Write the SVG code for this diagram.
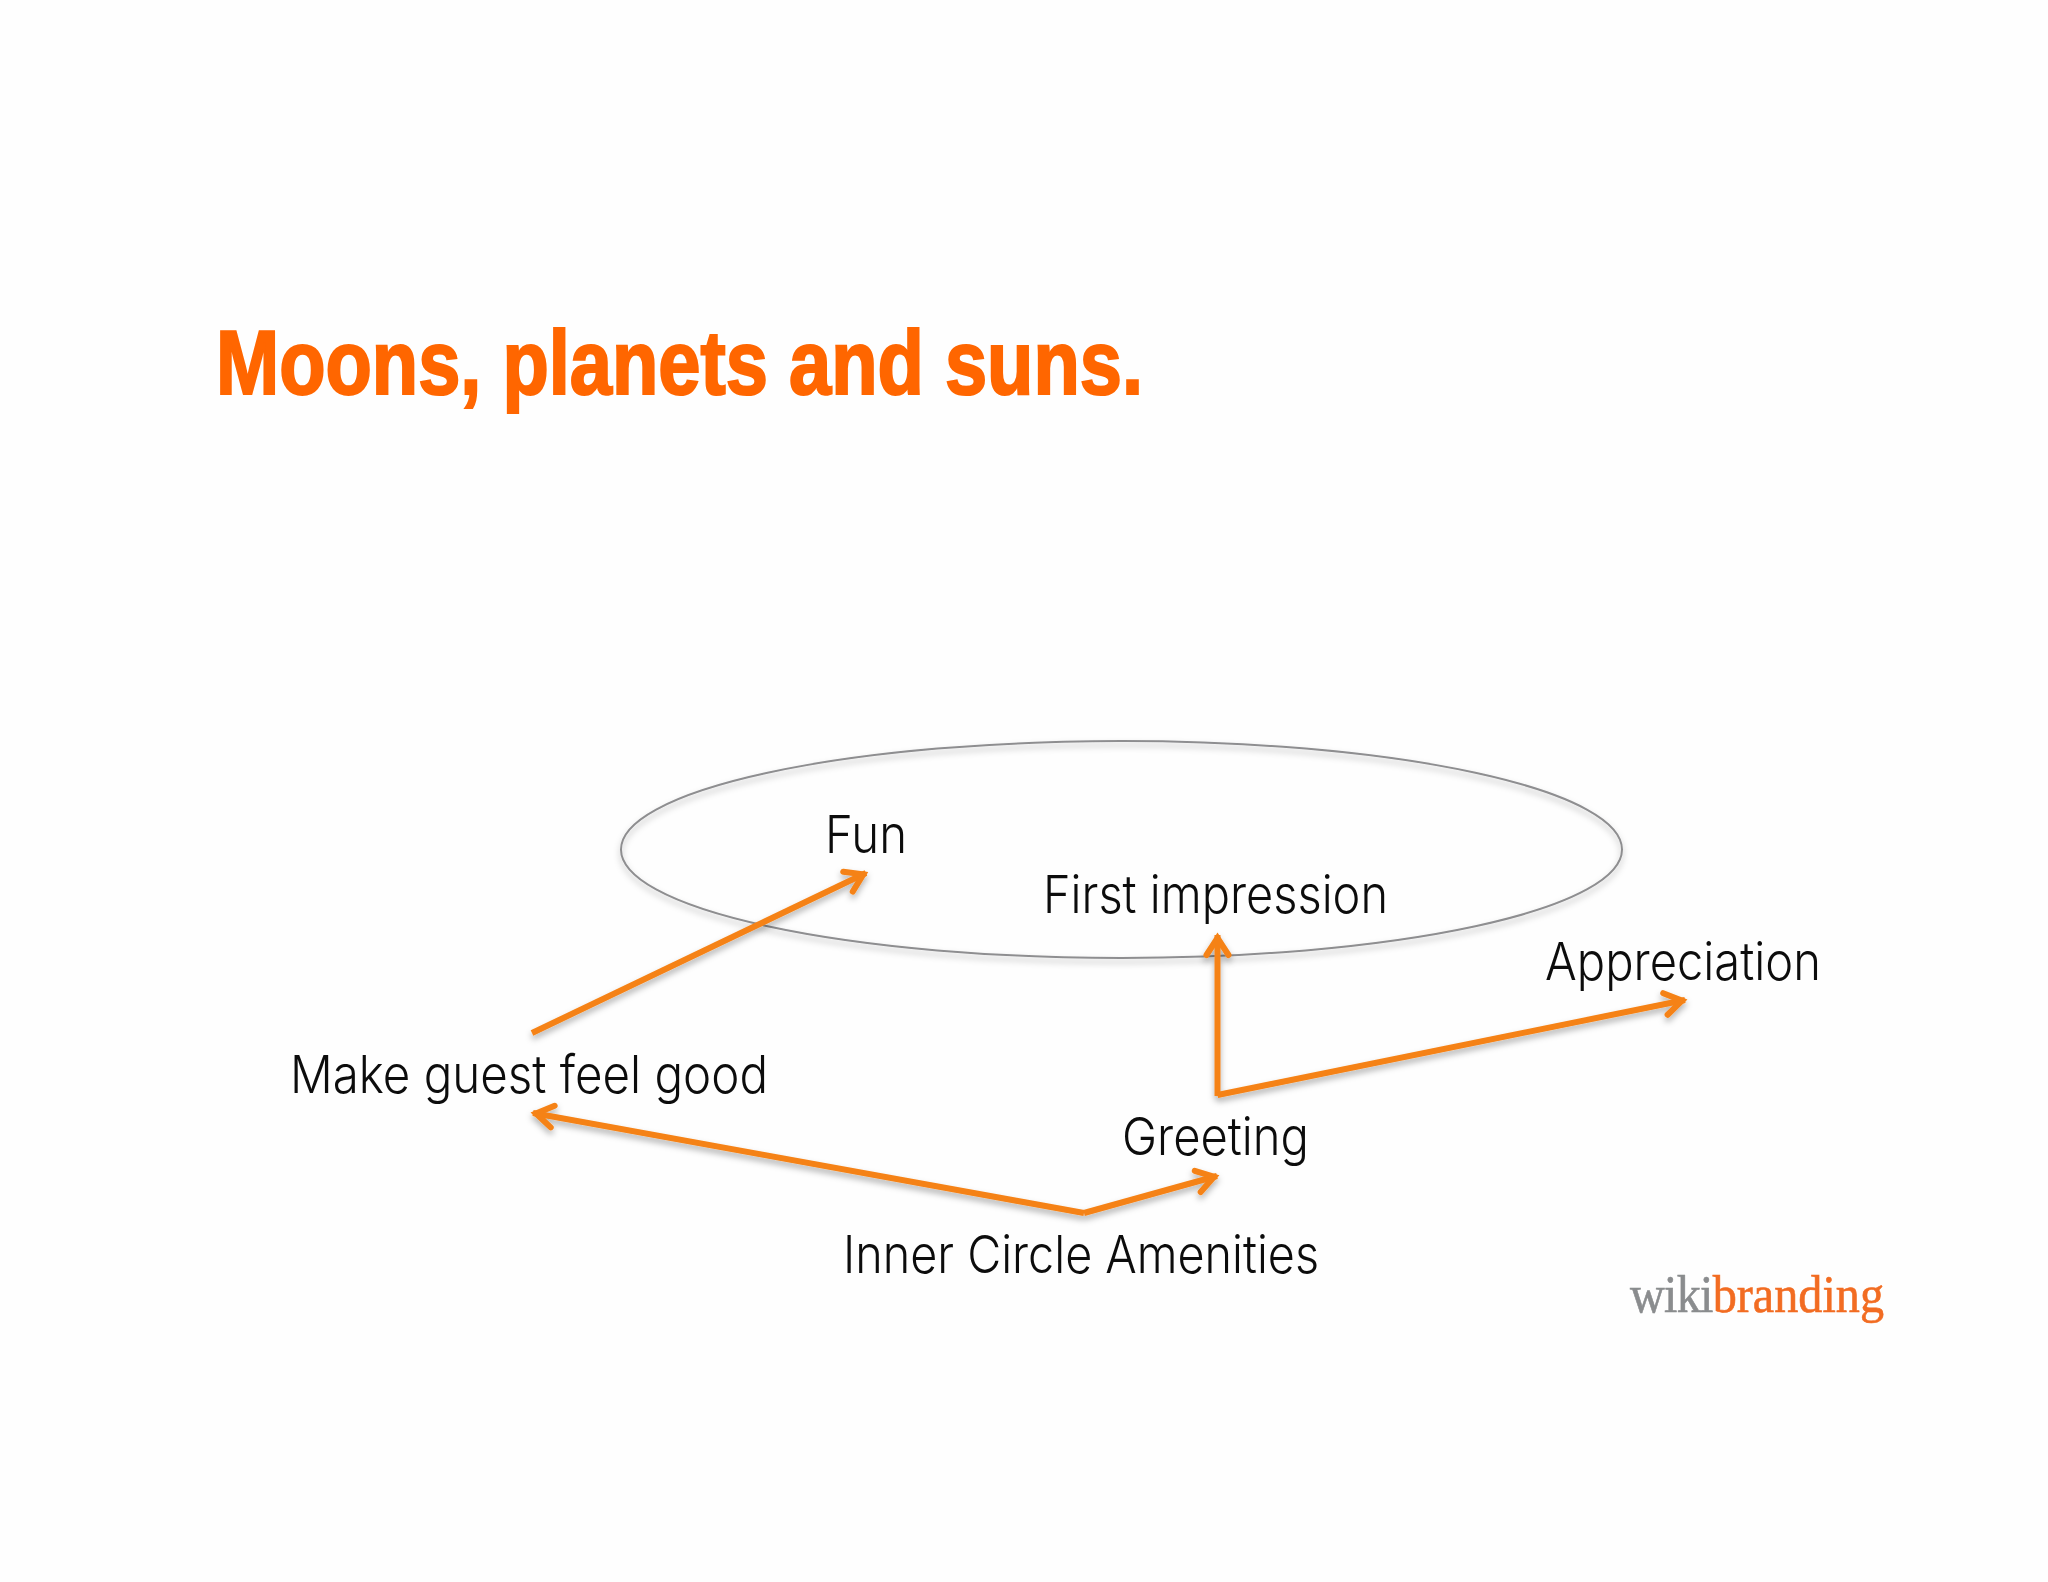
<svg xmlns="http://www.w3.org/2000/svg" width="2048" height="1582" viewBox="0 0 2048 1582">
<style>
.lbl{font-family:"Inter","Liberation Sans",sans-serif;font-weight:300;font-size:52px;fill:#0c0c0c}
.title{font-family:"Liberation Sans",Arial,sans-serif;font-weight:700;font-size:90px;fill:#ff6600;stroke:#ff6600;stroke-width:2.2}
.conn{fill:none;stroke:#f58216;stroke-width:6;marker-end:url(#arrow)}
.logo{font-family:"Liberation Serif",serif;font-size:52px;stroke-width:0.6}
.wiki{fill:#8a8c8e;stroke:#8a8c8e;letter-spacing:-0.8px}
.brand{fill:#f26c22;stroke:#f26c22}
</style>
<defs>
<marker id="arrow" markerUnits="userSpaceOnUse" viewBox="-26 -16 32 32" markerWidth="32" markerHeight="32" refX="3" refY="0" orient="auto">
<path d="M-17,-11 L0,0 L-17,11" fill="none" stroke="#f58216" stroke-width="6" stroke-linecap="round"/>
</marker>
<filter id="shadow" x="-10%" y="-10%" width="120%" height="130%">
<feDropShadow dx="0" dy="4" stdDeviation="3" flood-color="#000" flood-opacity="0.3"/>
</filter>
</defs>
<rect width="2048" height="1582" fill="#fefefe"/>
<g id="title"><text class="title" x="216" y="394" textLength="927" lengthAdjust="spacingAndGlyphs">Moons, planets and suns.</text></g>
<g id="orbit"><ellipse cx="1121.5" cy="849.5" rx="500.5" ry="108.5" fill="none" stroke="#8e8e90" stroke-width="2" filter="url(#shadow)"/></g>
<g id="connectors" filter="url(#shadow)">
<line class="conn" x1="532" y1="1033" x2="866" y2="873"/>
<line class="conn" x1="1217.5" y1="1096" x2="1217.5" y2="935"/>
<line class="conn" x1="1217.5" y1="1095" x2="1685" y2="1000"/>
<line class="conn" x1="1084" y1="1213" x2="533" y2="1113"/>
<line class="conn" x1="1084" y1="1213" x2="1217" y2="1176"/>
</g>
<g id="node-fun"><text class="lbl" x="825" y="853" textLength="82" lengthAdjust="spacingAndGlyphs">Fun</text></g>
<g id="node-first-impression"><text class="lbl" x="1043" y="913" textLength="345" lengthAdjust="spacingAndGlyphs">First impression</text></g>
<g id="node-appreciation"><text class="lbl" x="1545" y="980" textLength="276" lengthAdjust="spacingAndGlyphs">Appreciation</text></g>
<g id="node-make-guest"><text class="lbl" x="290" y="1093" textLength="478" lengthAdjust="spacingAndGlyphs">Make guest feel good</text></g>
<g id="node-greeting"><text class="lbl" x="1122" y="1155" textLength="187" lengthAdjust="spacingAndGlyphs">Greeting</text></g>
<g id="node-inner-circle"><text class="lbl" x="843" y="1273" textLength="476" lengthAdjust="spacingAndGlyphs">Inner Circle Amenities</text></g>
<g id="logo"><text class="logo" x="1630" y="1312" textLength="254" lengthAdjust="spacingAndGlyphs"><tspan class="wiki">wiki</tspan><tspan class="brand">branding</tspan></text></g>
</svg>
